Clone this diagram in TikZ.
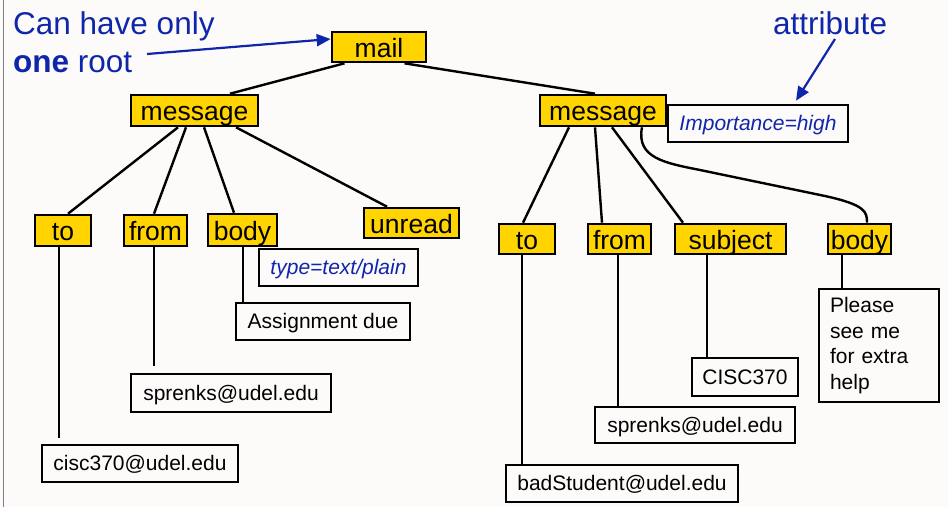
\documentclass[tikz,border=0pt]{standalone}
\usepackage{fontspec}
\setmainfont{Liberation Sans}
\usetikzlibrary{arrows.meta}

\definecolor{paper}{RGB}{253,251,250}
\definecolor{gold}{RGB}{255,212,0}
\definecolor{note}{RGB}{16,38,170}
\definecolor{frame}{RGB}{128,128,128}

\tikzset{
  elem/.style={draw=black, fill=gold, line width=2.6pt, inner sep=0pt,
    text height=20pt, text depth=0pt,
    font=\fontsize{26.5}{30}\selectfont},
  leaf/.style={draw=black, fill=paper, line width=2.6pt, inner sep=0pt,
    text height=14pt, text depth=0pt,
    font=\fontsize{21}{25.7}\selectfont},
  attr/.style={leaf, text=note, font=\fontsize{21}{25.7}\selectfont\itshape},
  callout/.style={inner sep=0pt, anchor=base west, text=note,
    font=\fontsize{31.5}{39}\selectfont},
  link/.style={line width=2.4pt, black},
  pointer/.style={line width=2.2pt, note, -{Triangle[length=14pt,width=12pt]}}
}

\begin{document}
\begin{tikzpicture}[x=1pt, y=-1pt]
  \useasboundingbox (0,0) rectangle (948,507);
  \fill[paper] (0,0) rectangle (948,507);
  \draw[frame, line width=1.2pt] (3.5,0) -- (3.5,507);

  % root
  \node[elem, minimum width=94, minimum height=30] (mail) at (379,47) {mail};

  % first message
  \node[elem, minimum width=127, minimum height=31] (msgL) at (194.5,110.5) {message};
  \node[elem, minimum width=56, minimum height=31] (toL) at (63,230.5) {to};
  \node[elem, minimum width=63, minimum height=31] (fromL) at (155.5,230.5) {from};
  \node[elem, minimum width=69, minimum height=32] (bodyL) at (242.5,230) {body};
  \node[elem, minimum width=95, minimum height=30] (unread) at (411.5,223) {unread};
  \node[attr, minimum width=159, minimum height=37] (typeattr) at (338.5,267.5) {type=text/plain};
  \node[leaf, minimum width=174, minimum height=37] (assign) at (323,321.5) {Assignment due};
  \node[leaf, minimum width=200, minimum height=38] (sprL) at (231,393) {sprenks@udel.edu};
  \node[leaf, minimum width=196, minimum height=37] (ciscmail) at (140,463.5) {cisc370@udel.edu};

  % second message
  \node[elem, minimum width=126, minimum height=31] (msgR) at (603,110.5) {message};
  \node[attr, minimum width=180, minimum height=37] (imp) at (758,123.5) {Importance=high};
  \node[elem, minimum width=56, minimum height=30] (toR) at (527,239) {to};
  \node[elem, minimum width=63, minimum height=30] (fromR) at (619.5,239) {from};
  \node[elem, minimum width=111, minimum height=30] (subj) at (730.5,239) {subject};
  \node[elem, minimum width=63, minimum height=30] (bodyR) at (859.5,239) {body};
  \node[leaf, minimum width=232, minimum height=37] (bad) at (622,483.5) {badStudent@udel.edu};
  \node[leaf, minimum width=200, minimum height=36] (sprR) at (695,425) {sprenks@udel.edu};
  \node[leaf, minimum width=106, minimum height=38] (course) at (745,377) {CISC370};
  \node[leaf, minimum width=120, minimum height=113, text width=98pt, align=left,
        text height=, text depth=] (please) at (879,345.5)
        {Please\\see me\\for extra\\help};

  % tree edges
  \draw[link] ([xshift=-34.5]mail.south) -- ([xshift=35.5]msgL.north);
  \draw[link] ([xshift=25.5]mail.south) -- ([xshift=-8]msgR.north);

  \draw[link] ([xshift=-16.5]msgL.south) -- ([xshift=5]toL.north);
  \draw[link] ([xshift=-8.5]msgL.south) -- ([xshift=-1.5]fromL.north);
  \draw[link] ([xshift=9.5]msgL.south) -- ([xshift=-8.5]bodyL.north);
  \draw[link] ([xshift=41.5]msgL.south) -- ([xshift=-24.5]unread.north);

  \draw[link, shorten >=6pt] ([xshift=-4]toL.south) -- ([xshift=-4]toL.south |- ciscmail.north);
  \draw[link, shorten >=7pt] ([xshift=-1.5]fromL.south) -- ([xshift=-1.5]fromL.south |- sprL.north);
  \draw[link] ([xshift=0.5]bodyL.south) -- ([xshift=0.5]bodyL.south |- assign.north);

  \draw[link] ([xshift=-34]msgR.south) -- ([xshift=-4]toR.north);
  \draw[link] ([xshift=-8]msgR.south) -- ([xshift=-17.5]fromR.north);
  \draw[link] ([xshift=9]msgR.south) -- ([xshift=-47.5]subj.north);
  \draw[link] ([xshift=39]msgR.south)
      .. controls (636,158) and (665,163) .. (700,170)
      -- (825,196)
      .. controls (866,205) and (867,212) .. ([xshift=7.5]bodyR.north);

  \draw[link] ([xshift=-5]toR.south) -- ([xshift=-5]toR.south |- bad.north);
  \draw[link] ([xshift=-1.5]fromR.south) -- ([xshift=-1.5]fromR.south |- sprR.north);
  \draw[link] ([xshift=-23.5]subj.south) -- ([xshift=-23.5]subj.south |- course.north);
  \draw[link] ([xshift=-17.5]bodyR.south) -- ([xshift=-17.5]bodyR.south |- please.north);

  % callouts
  \node[callout] (rootline1) at (13,34) {Can have only};
  \node[callout] (rootline2) at (13,72) {\textbf{one} root};
  \node[callout] (attrlabel) at (773,34) {attribute};
  \coordinate (rootfrom) at (147,54);
  \coordinate (attrfrom) at (835,39);
  \draw[pointer] (rootfrom) -- ([yshift=8pt]mail.west);
  \draw[pointer] (attrfrom) -- ([xshift=38pt,yshift=3pt]imp.north);
\end{tikzpicture}
\end{document}
